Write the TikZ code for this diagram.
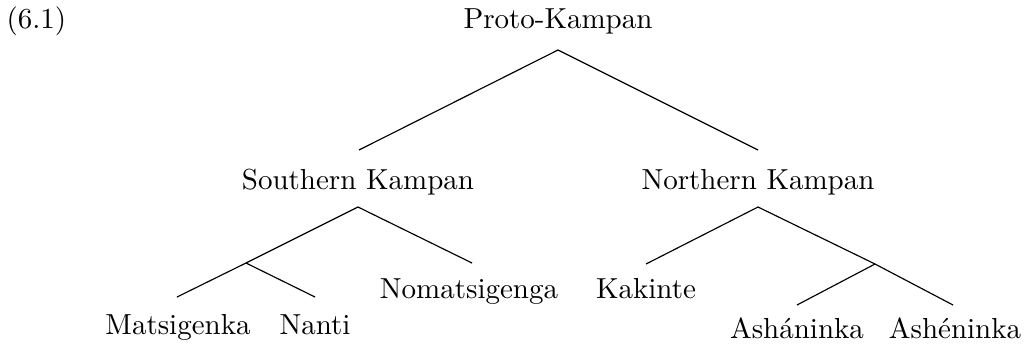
\documentclass[tikz,border=0pt]{standalone}
\begin{document}
\begin{tikzpicture}[x=0.345pt,y=-0.345pt,
  lbl/.style={inner sep=0pt,anchor=base,font=\fontsize{10}{12}\selectfont},
  edge/.style={line width=0.4pt}]
\useasboundingbox (0,0) rectangle (1024,347);
% labels
\node[lbl,anchor=base west] (ex) at (6,28) {(6.1)};
\node[lbl] (pk) at (558,28) {Proto-Kampan};
\node[lbl] (sk) at (358,189) {Southern Kampan};
\node[lbl] (nk) at (758,189) {Northern Kampan};
\node[lbl] (mat) at (178,334) {Matsigenka};
\node[lbl] (nan) at (315,334) {Nanti};
\node[lbl] (nom) at (469,298) {Nomatsigenga};
\node[lbl] (kak) at (646,298) {Kakinte};
\node[lbl] (asha) at (797,338) {Ash\'aninka};
\node[lbl] (ashe) at (955,338) {Ash\'eninka};
% branch points
\coordinate (pkT) at (558,50);
\coordinate (skB) at (359,150);
\coordinate (nkB) at (758,150);
\coordinate (skT) at (358,207);
\coordinate (sj) at (246,263);
\coordinate (matB) at (177,297);
\coordinate (nanB) at (315,297);
\coordinate (nomB) at (472,263);
\coordinate (nkT) at (758,207);
\coordinate (kakB) at (646,264);
\coordinate (nj) at (875,264);
\coordinate (ashaB) at (797,305);
\coordinate (asheB) at (953,305);
% edges
\draw[edge] (skB) -- (pkT) -- (nkB);
\draw[edge] (matB) -- (sj) -- (skT) -- (nomB);
\draw[edge] (sj) -- (nanB);
\draw[edge] (kakB) -- (nkT) -- (nj) -- (asheB);
\draw[edge] (nj) -- (ashaB);
\end{tikzpicture}
\end{document}
